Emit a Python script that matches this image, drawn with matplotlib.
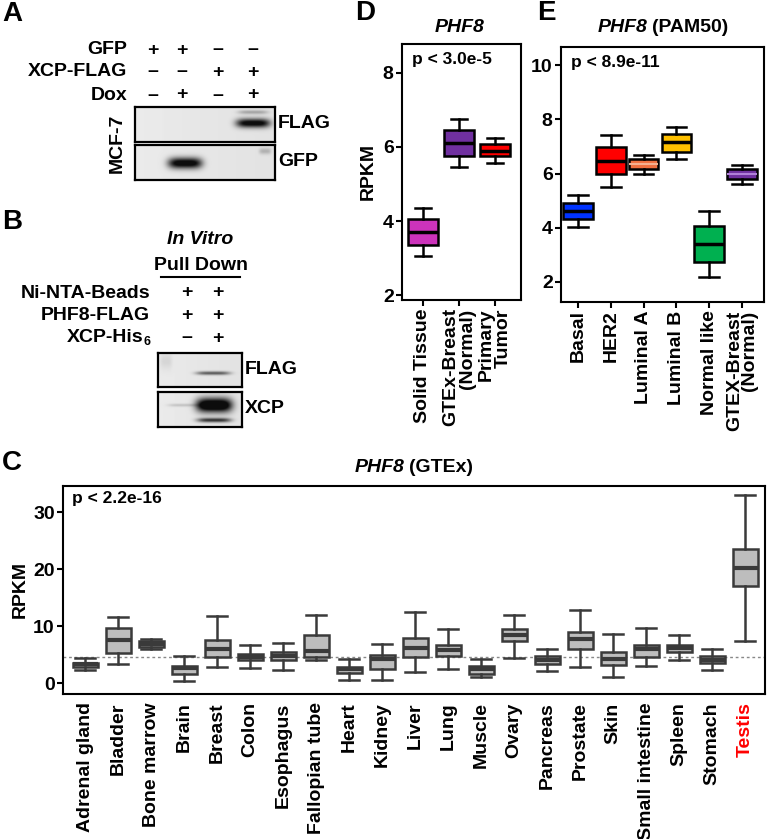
import numpy as np
import matplotlib
matplotlib.use("Agg")
import matplotlib.pyplot as plt

plt.rcParams['font.family'] = ['Liberation Sans', 'DejaVu Sans']
plt.rcParams['font.weight'] = 'bold'
plt.rcParams['axes.labelweight'] = 'bold'
plt.rcParams['axes.linewidth'] = 1.5

W, H = 767, 839
FS = 14      # main text size
PFS = 12.5   # p-value text
LFS = 20     # panel letters

# ---- data: panel C (GTEx) ----
gtex_tissues = ['Adrenal gland', 'Bladder', 'Bone marrow', 'Brain', 'Breast', 'Colon',
                'Esophagus', 'Fallopian tube', 'Heart', 'Kidney', 'Liver', 'Lung',
                'Muscle', 'Ovary', 'Pancreas', 'Prostate', 'Skin', 'Small intestine',
                'Spleen', 'Stomach', 'Testis']
gtex_whislo = [2.2, 3.4, 5.9, 0.3, 2.8, 2.6, 2.2, 4.0, 0.6, 0.6, 1.9, 2.4, 1.1, 4.4, 2.1, 2.8, 1.1, 2.9, 4.0, 2.2, 7.4]
gtex_q1 = [2.8, 5.3, 6.3, 1.6, 4.5, 4.0, 4.1, 4.6, 1.8, 2.5, 4.6, 4.8, 1.6, 7.3, 3.4, 6.0, 3.2, 4.5, 5.5, 3.5, 17.1]
gtex_med = [3.3, 7.6, 6.9, 2.6, 6.0, 4.6, 4.7, 5.6, 2.4, 4.2, 6.2, 5.8, 2.4, 8.4, 4.0, 7.8, 4.3, 5.9, 6.2, 4.1, 20.2]
gtex_q3 = [3.6, 9.6, 7.4, 2.9, 7.6, 5.1, 5.5, 8.4, 2.8, 4.9, 7.9, 6.7, 2.9, 9.5, 4.7, 8.9, 5.5, 6.6, 6.7, 4.7, 23.5]
gtex_whishi = [4.4, 11.6, 7.8, 4.8, 11.8, 6.6, 7.1, 11.9, 4.2, 6.8, 12.4, 9.4, 4.3, 12.0, 6.0, 12.8, 8.6, 9.6, 8.4, 6.0, 33.1]
gtex_ref_line = 4.56

# ---- data: panel D (TCGA breast) ----
tcga_groups = ['Solid Tissue', 'GTEx-Breast\n(Normal)', 'Primary\nTumor']
tcga_whislo = [3.05, 5.47, 5.57]
tcga_q1 = [3.35, 5.75, 5.75]
tcga_med = [3.70, 6.12, 5.90]
tcga_q3 = [4.05, 6.45, 6.07]
tcga_whishi = [4.35, 6.75, 6.25]
tcga_colors = ['#cc33bb', '#7030a0', '#ff0000']

# ---- data: panel E (PAM50) ----
pam50_groups = ['Basal', 'HER2', 'Luminal A', 'Luminal B', 'Normal like', 'GTEX-Breast\n(Normal)']
pam50_whislo = [4.03, 5.50, 5.98, 6.52, 2.17, 5.63]
pam50_q1 = [4.33, 5.97, 6.15, 6.80, 2.75, 5.80]
pam50_med = [4.60, 6.47, 6.35, 7.15, 3.40, 5.97]
pam50_q3 = [4.93, 6.97, 6.53, 7.45, 4.05, 6.15]
pam50_whishi = [5.20, 7.42, 6.68, 7.73, 4.63, 6.33]
pam50_colors = ['#0033ff', '#ff0000', '#f07040', '#ffc000', '#00b050', '#7030a0']

# ---- blot bands: (cx, cy, half-width, half-height, darkness) in box pixels ----
blot_a_flag = [(118, 16, 17, 4.5, 0.95), (118, 5, 15, 2, 0.25)]
blot_a_gfp = [(50, 18, 17, 5.5, 1.0), (130, 6, 6, 3, 0.2)]
blot_b_flag = [(55, 20, 17, 1.8, 0.55), (8, 8, 6, 8, 0.08)]
blot_b_xcp = [(56, 13, 18, 7, 1.2), (56, 28, 17, 2.2, 0.7), (25, 13, 15, 1.5, 0.15)]


def px_axes(l, t, r, b):
    return fig.add_axes([l / W, 1 - b / H, (r - l) / W, (b - t) / H])


def ptext(x, y, s, **kw):
    return fig.text(x / W, 1 - y / H, s, **kw)


def blot(l, t, r, b, bands):
    ax = px_axes(l, t, r, b)
    w, h = r - l, b - t
    yy, xx = np.mgrid[0:h * 3, 0:w * 3] / 3.0
    img = 0.92 - 0.03 * (xx / w) + np.zeros_like(yy)
    for cx, cy, sx, sy, amp in bands:
        img -= amp * np.exp(-((xx - cx) / sx) ** 4 - ((yy - cy) / sy) ** 2)
    ax.imshow(np.clip(img, 0.05, 1), cmap='gray', vmin=0, vmax=1,
              extent=(0, w, h, 0), aspect='auto', interpolation='bilinear')
    ax.set_xticks([])
    ax.set_yticks([])
    for s in ax.spines.values():
        s.set_linewidth(1.6)
    return ax


def stats_list(lo, q1, med, q3, hi):
    return [dict(whislo=a, q1=b, med=c, q3=d, whishi=e)
            for a, b, c, d, e in zip(lo, q1, med, q3, hi)]


fig = plt.figure(figsize=(W / 100, H / 100), dpi=100)

# ---------------- Panel A ----------------
ptext(2, 14, 'A', fontsize=LFS, va='center', ha='left')
a_rows = ['GFP', 'XCP-FLAG', 'Dox']
a_signs = [['+', '+', '–', '–'], ['–', '–', '+', '+'], ['–', '+', '–', '+']]
a_ys = [50, 72, 95]
a_xs = [153, 182, 218, 253]
for lab, signs, y in zip(a_rows, a_signs, a_ys):
    ptext(127, y, lab, fontsize=FS, ha='right', va='center')
    for sx, sg in zip(a_xs, signs):
        ptext(sx, y, sg, fontsize=FS, ha='center', va='center')
blot(135, 107, 275, 142, blot_a_flag)
blot(135, 145, 275, 180, blot_a_gfp)
ptext(278, 124, 'FLAG', fontsize=FS, ha='left', va='center')
ptext(278, 162, 'GFP', fontsize=FS, ha='left', va='center')
ptext(117, 143, 'MCF-7', fontsize=FS, ha='center', va='center', rotation=90)

# ---------------- Panel B ----------------
ptext(2, 222, 'B', fontsize=LFS, va='center', ha='left')
ptext(200, 240, 'In Vitro', fontsize=FS, ha='center', va='center', style='italic')
ptext(201, 266, 'Pull Down', fontsize=FS, ha='center', va='center')
fig.add_artist(plt.Line2D([161 / W, 240 / W], [1 - 277 / H, 1 - 277 / H],
                          color='black', lw=1.5))
b_rows = ['Ni-NTA-Beads', 'PHF8-FLAG', 'XCP-His']
b_signs = [['+', '+'], ['+', '+'], ['–', '+']]
b_ys = [293, 316, 338]
b_xs = [187, 218]
for lab, signs, y in zip(b_rows, b_signs, b_ys):
    ptext(143 if lab == 'XCP-His' else 150, y, lab, fontsize=FS, ha='right', va='center')
    for sx, sg in zip(b_xs, signs):
        ptext(sx, y, sg, fontsize=FS, ha='center', va='center')
ptext(143, 342, '6', fontsize=9, ha='left', va='center')
blot(158, 353, 242, 387, blot_b_flag)
blot(158, 392, 242, 427, blot_b_xcp)
ptext(245, 370, 'FLAG', fontsize=FS, ha='left', va='center')
ptext(245, 409, 'XCP', fontsize=FS, ha='left', va='center')

# ---------------- Panel C ----------------
ptext(2, 463, 'C', fontsize=LFS, va='center', ha='left')
ptext(405, 468, 'PHF8', fontsize=FS, ha='right', va='center', style='italic')
ptext(409, 468, '(GTEx)', fontsize=FS, ha='left', va='center')
axc = px_axes(63, 486, 765, 694)
pos_c = np.arange(1, len(gtex_tissues) + 1)
axc.axhline(gtex_ref_line, color='#888888', lw=1, ls=(0, (2, 2)), zorder=0)
bp = axc.bxp(stats_list(gtex_whislo, gtex_q1, gtex_med, gtex_q3, gtex_whishi),
             positions=pos_c, widths=0.76, capwidths=0.62, patch_artist=True, showfliers=False,
             boxprops=dict(facecolor='#bdbdbd', edgecolor='#3a3a3a', linewidth=1.8),
             medianprops=dict(color='#3a3a3a', linewidth=3, solid_capstyle='butt'),
             whiskerprops=dict(color='#3a3a3a', linewidth=1.8),
             capprops=dict(color='#3a3a3a', linewidth=1.8))
axc.set_xlim(0.33, 21.6)
axc.set_ylim(-1.93, 34.6)
axc.set_yticks([0, 10, 20, 30])
axc.set_xticks(pos_c)
axc.set_xticklabels(gtex_tissues, rotation=90, fontsize=FS)
axc.tick_params(axis='x', length=0, pad=6)
axc.tick_params(axis='y', labelsize=FS, width=1.5, length=4, pad=2)
axc.get_xticklabels()[-1].set_color('#ff0000')
axc.set_ylabel('RPKM', fontsize=FS, labelpad=3)
axc.text(0.013, 0.94, 'p < 2.2e-16', transform=axc.transAxes, fontsize=PFS, va='center')

# ---------------- Panel D ----------------
ptext(355, 13, 'D', fontsize=LFS, va='center', ha='left')
ptext(460, 27, 'PHF8', fontsize=FS, ha='center', va='center', style='italic')
axd = px_axes(402, 44, 521, 300)
pos_d = np.arange(1, len(tcga_groups) + 1)
bp = axd.bxp(stats_list(tcga_whislo, tcga_q1, tcga_med, tcga_q3, tcga_whishi),
             positions=pos_d, widths=0.83, capwidths=0.45, patch_artist=True, showfliers=False,
             boxprops=dict(edgecolor='black', linewidth=1.8),
             medianprops=dict(color='black', linewidth=2.5, solid_capstyle='butt'),
             whiskerprops=dict(color='black', linewidth=1.8),
             capprops=dict(color='black', linewidth=1.8))
for patch, c in zip(bp['boxes'], tcga_colors):
    patch.set_facecolor(c)
axd.set_xlim(0.42, 3.72)
axd.set_ylim(1.87, 8.78)
axd.set_yticks([2, 4, 6, 8])
axd.set_xticks(pos_d)
axd.set_xticklabels(tcga_groups, rotation=90, fontsize=FS, multialignment='right',
                    linespacing=1.0)
axd.tick_params(axis='both', labelsize=FS, width=1.5, length=4, pad=2)
axd.set_ylabel('RPKM', fontsize=FS, labelpad=4)
axd.text(0.08, 0.94, 'p < 3.0e-5', transform=axd.transAxes, fontsize=PFS, va='center')

# ---------------- Panel E ----------------
ptext(537, 13, 'E', fontsize=LFS, va='center', ha='left')
ptext(648, 27, 'PHF8', fontsize=FS, ha='right', va='center', style='italic')
ptext(652, 27, '(PAM50)', fontsize=FS, ha='left', va='center')
axe = px_axes(561, 47, 764, 302)
pos_e = np.arange(1, len(pam50_groups) + 1)
bp = axe.bxp(stats_list(pam50_whislo, pam50_q1, pam50_med, pam50_q3, pam50_whishi),
             positions=pos_e, widths=0.9, capwidths=0.6, patch_artist=True, showfliers=False,
             boxprops=dict(edgecolor='black', linewidth=1.8),
             medianprops=dict(color='black', linewidth=2.5, solid_capstyle='butt'),
             whiskerprops=dict(color='black', linewidth=1.8),
             capprops=dict(color='black', linewidth=1.8))
for patch, c in zip(bp['boxes'], pam50_colors):
    patch.set_facecolor(c)
bp['medians'][2].set_color('#f5b090')
bp['medians'][2].set_linewidth(1.5)
bp['medians'][5].set_color('#b080d8')
bp['medians'][5].set_linewidth(1.5)
axe.set_xlim(0.48, 6.67)
axe.set_ylim(1.26, 10.67)
axe.set_yticks([2, 4, 6, 8, 10])
axe.set_xticks(pos_e)
axe.set_xticklabels(pam50_groups, rotation=90, fontsize=FS, multialignment='right',
                    linespacing=0.85)
axe.tick_params(axis='both', labelsize=FS, width=1.5, length=4, pad=2)
axe.text(0.05, 0.94, 'p < 8.9e-11', transform=axe.transAxes, fontsize=PFS, va='center')

fig.savefig('out.png', dpi=100)
